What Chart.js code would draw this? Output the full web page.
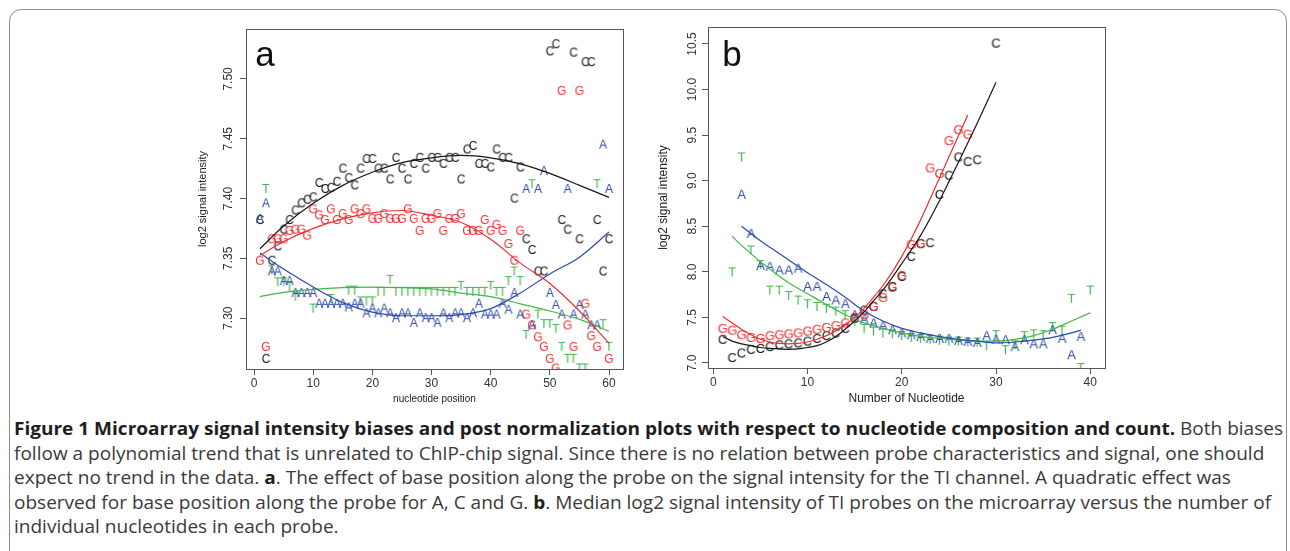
<!DOCTYPE html>
<html>
<head>
<meta charset="utf-8">
<script src="https://cdn.jsdelivr.net/npm/chart.js@4.4.0/dist/chart.umd.min.js"></script>
<style>
  body { margin: 0; width: 1290px; height: 551px; background: #fff; overflow: hidden; position: relative; }
  #frame { position: absolute; left: 9px; top: 9px; width: 1276px; height: 620px; border: 1px solid #8c8c8c; border-radius: 12px; }
  canvas { position: absolute; }
  #chartA { left: 170px; top: 20px; }
  #chartB { left: 640px; top: 15px; }
  .cap-line { position: absolute; left: 14px; font-family: "Open Sans", sans-serif; font-size: 18px; line-height: 24px;
              color: #3a3a3a; white-space: nowrap; transform-origin: 0 50%; }
  .cap-line b { color: #1e1e1e; }
</style>
</head>
<body>
<div id="frame"></div>
<canvas id="chartA" width="470" height="390"></canvas>
<canvas id="chartB" width="480" height="395"></canvas>

<div class="cap-line" style="top:416px"><b>Figure 1 Microarray signal intensity biases and post normalization plots with respect to nucleotide composition and count.</b> Both biases</div>
<div class="cap-line" style="top:440.5px">follow a polynomial trend that is unrelated to ChIP-chip signal. Since there is no relation between probe characteristics and signal, one should</div>
<div class="cap-line" style="top:465px">expect no trend in the data. <b>a</b>. The effect of base position along the probe on the signal intensity for the TI channel. A quadratic effect was</div>
<div class="cap-line" style="top:489.5px">observed for base position along the probe for A, C and G. <b>b</b>. Median log2 signal intensity of TI probes on the microarray versus the number of</div>
<div class="cap-line" style="top:514px">individual nucleotides in each probe.</div>

<script>
// ---------- panel a : base position along the probe ----------
var posC_a = [1,2,3,4,5,6,7,8,9,10,11,12,13,14,15,16,17,18,19,20,21,22,23,24,25,26,27,28,29,30,
              31,32,33,34,35,36,37,38,39,40,41,42,43,44,45,46,47,48,49,50,51,52,53,54,55,56,57,58,59,60];
var valC_a = [7.382,7.266,7.348,7.360,7.374,7.382,7.390,7.396,7.399,7.401,7.413,7.408,7.409,7.414,7.425,
              7.417,7.411,7.425,7.433,7.433,7.425,7.425,7.416,7.434,7.425,7.416,7.429,7.434,7.425,7.434,
              7.434,7.429,7.434,7.434,7.416,7.441,7.444,7.429,7.429,7.426,7.441,7.434,7.434,7.400,7.426,
              7.366,7.357,7.339,7.339,7.523,7.529,7.382,7.374,7.522,7.366,7.514,7.514,7.382,7.339,7.366];

var posG_a = [1,2,3,4,5,6,7,8,9,10,11,12,13,14,15,16,17,18,19,20,21,22,23,24,25,26,27,28,29,30,
              31,32,33,34,35,36,37,38,39,40,41,42,43,44,45,46,47,48,49,50,51,52,53,54,55,56,57,58,60];
var valG_a = [7.348,7.276,7.366,7.366,7.366,7.373,7.374,7.374,7.369,7.391,7.386,7.382,7.391,7.382,7.387,
              7.382,7.391,7.387,7.391,7.383,7.383,7.387,7.383,7.383,7.383,7.391,7.383,7.373,7.383,7.383,
              7.387,7.373,7.383,7.383,7.387,7.373,7.373,7.373,7.382,7.373,7.378,7.373,7.362,7.348,7.373,
              7.303,7.294,7.284,7.276,7.266,7.258,7.490,7.294,7.276,7.490,7.312,7.285,7.276,7.266];

var posA_a = posC_a;
var valA_a = [7.383,7.396,7.339,7.339,7.331,7.331,7.321,7.321,7.321,7.321,7.312,7.312,7.312,7.312,7.312,
              7.309,7.312,7.312,7.304,7.308,7.304,7.308,7.304,7.300,7.304,7.304,7.296,7.304,7.300,7.300,
              7.296,7.304,7.300,7.304,7.304,7.300,7.304,7.312,7.303,7.303,7.303,7.312,7.307,7.321,7.303,
              7.408,7.294,7.408,7.423,7.321,7.311,7.303,7.408,7.303,7.311,7.303,7.294,7.294,7.445,7.408];

var posT_a = [2,3,4,5,6,7,10,13,16,17,18,19,20,21,22,23,24,25,26,27,28,29,30,31,32,33,34,35,36,37,38,39,
              40,41,42,43,44,45,46,47,48,49,50,51,52,53,54,55,56,58,59,60];
var valT_a = [7.408,7.340,7.330,7.330,7.326,7.318,7.308,7.316,7.323,7.323,7.314,7.314,7.314,7.322,7.322,7.332,
              7.322,7.322,7.322,7.322,7.322,7.322,7.322,7.322,7.322,7.322,7.322,7.327,7.322,7.322,7.322,7.322,
              7.327,7.322,7.322,7.331,7.339,7.331,7.286,7.412,7.303,7.295,7.295,7.291,7.276,7.266,7.266,
              7.258,7.258,7.412,7.295,7.276];

// fitted trend lines
var fitX_a = [1,5,10,15,20,25,30,35,40,45,50,55,60];
var fitC_a = [7.358,7.377,7.396,7.411,7.422,7.430,7.434,7.436,7.434,7.429,7.421,7.411,7.401];
var fitG_a = [7.3525,7.364,7.375,7.383,7.388,7.390,7.386,7.380,7.366,7.346,7.329,7.306,7.279];
var fitA_a = [7.3544,7.341,7.326,7.313,7.305,7.302,7.302,7.303,7.308,7.321,7.337,7.351,7.372];
var fitT_a = [7.318,7.3215,7.324,7.3255,7.326,7.3255,7.3245,7.321,7.318,7.312,7.306,7.299,7.289];

// ---------- panel b : number of each nucleotide ----------
var numC_b = [1,2,3,4,5,6,7,8,9,10,11,12,13,14,15,16,17,18,19,20,21,22,23,24,25,26,27,28,30];
var valC_b = [7.26,7.06,7.11,7.15,7.16,7.18,7.20,7.21,7.22,7.24,7.27,7.30,7.33,7.38,7.49,7.58,7.62,7.76,
              7.84,7.95,8.17,8.31,8.32,8.85,9.06,9.26,9.21,9.23,10.51];

var numG_b = [1,2,3,4,5,6,7,8,9,10,11,12,13,14,15,16,17,18,19,20,21,22,23,24,25,26,27];
var valG_b = [7.38,7.36,7.31,7.28,7.27,7.30,7.31,7.32,7.33,7.35,7.37,7.39,7.41,7.44,7.50,7.53,7.62,7.72,
              7.83,7.96,8.30,8.31,9.14,9.08,9.44,9.56,9.51];

var numA_b = [3,4,5,6,7,8,9,10,11,12,13,14,15,16,17,18,19,20,21,22,23,24,25,26,27,28,29,30,31,32,33,34,
              35,36,37,38,39];
var valA_b = [8.85,8.42,8.07,8.06,8.02,8.02,8.04,7.84,7.84,7.73,7.69,7.65,7.53,7.48,7.44,7.41,7.365,7.33,
              7.31,7.29,7.27,7.27,7.27,7.247,7.236,7.226,7.30,7.26,7.255,7.18,7.255,7.21,7.21,7.365,7.27,
              7.09,7.29];

var numT_b = [2,3,4,5,6,7,8,9,10,11,12,13,14,15,16,17,18,19,20,21,22,23,24,25,26,27,28,29,30,31,32,33,
              34,35,36,37,38,39,40];
var valT_b = [8.00,9.26,8.24,8.08,7.80,7.80,7.74,7.69,7.65,7.62,7.60,7.57,7.53,7.46,7.38,7.35,7.33,7.32,
              7.30,7.28,7.27,7.26,7.25,7.24,7.24,7.23,7.23,7.19,7.31,7.146,7.20,7.30,7.32,7.31,7.40,7.36,
              7.71,6.95,7.80];

var fitXC_b = [1,2,3,4,5,6,7,8,9,10,11,12,13,14,15,16,17,18,19,20,22,24,26,28,30];
var fitC_b  = [7.29,7.24,7.21,7.19,7.17,7.16,7.155,7.15,7.155,7.17,7.19,7.23,7.29,7.37,7.46,7.56,7.68,
               7.80,7.94,8.09,8.40,8.78,9.20,9.63,10.08];
var fitXG_b = [1,2,3,4,5,6,7,8,9,10,11,12,13,14,15,16,17,18,19,20,21,22,23,24,25,26,27];
var fitG_b  = [7.51,7.44,7.37,7.31,7.26,7.23,7.215,7.21,7.215,7.23,7.26,7.30,7.35,7.42,7.50,7.60,7.72,
               7.85,8.00,8.17,8.36,8.57,8.80,9.03,9.26,9.49,9.72];
var fitXA_b = [3,4,5,6,7,8,10,12,14,16,18,20,22,24,26,28,30,32,34,36,38,39];
var fitA_b  = [8.50,8.42,8.34,8.27,8.20,8.13,7.99,7.86,7.72,7.57,7.46,7.38,7.33,7.29,7.26,7.24,7.22,7.23,
               7.25,7.28,7.33,7.36];
var fitXT_b = [2,3,4,5,6,8,10,12,14,16,18,20,22,24,26,28,30,32,34,36,38,40];
var fitT_b  = [8.39,8.29,8.20,8.11,8.03,7.88,7.76,7.64,7.53,7.44,7.38,7.33,7.29,7.27,7.25,7.24,7.24,7.26,
               7.30,7.37,7.46,7.55];

var FONT = '"Liberation Sans", Arial, sans-serif';
var colC = '#151515', colG = '#ee2e2e', colA = '#2c49ab', colT = '#44b54a';

// a letter drawn on a small canvas, used as the point style
function letterImage(ch, color, px) {
    var c = document.createElement('canvas');
    c.width = px + 4;
    c.height = px + 4;
    var g = c.getContext('2d');
    g.font = px + 'px ' + FONT;
    g.fillStyle = color;
    g.textAlign = 'center';
    g.textBaseline = 'alphabetic';
    g.fillText(ch, c.width / 2, c.height / 2 + px * 0.36);
    return c;
}

function pts(xs, ys) {
    return xs.map(function (x, i) { return { x: x, y: ys[i] }; });
}

function letterSet(ch, color, xs, ys, px) {
    return { label: ch, data: pts(xs, ys), pointStyle: letterImage(ch, color, px), pointRadius: 4, showLine: false };
}

function curveSet(color, xs, ys) {
    return { data: pts(xs, ys), showLine: true, borderColor: color, borderWidth: 1.2, pointRadius: 0,
             cubicInterpolationMode: 'monotone', fill: false };
}

// box round the plot region and the panel letter
var panelBox = {
    id: 'panelBox',
    afterDatasetsDraw: function (chart, args, opts) {
        var ctx = chart.ctx, a = chart.chartArea;
        ctx.save();
        ctx.strokeStyle = '#555';
        ctx.lineWidth = 1;
        ctx.strokeRect(Math.round(a.left) + 0.5, Math.round(a.top) + 0.5,
                       Math.round(a.right - a.left), Math.round(a.bottom - a.top));
        ctx.font = '35px ' + FONT;
        ctx.fillStyle = '#111';
        ctx.textAlign = 'center';
        ctx.fillText(opts.letter, a.left + opts.dx, a.top + opts.dy);
        ctx.restore();
    }
};

function axisX(min, max, fitH, title, titleSize, titlePad) {
    return {
        type: 'linear', min: min, max: max,
        afterFit: function (s) { s.height = fitH; },
        border: { display: false },
        grid: { drawOnChartArea: false, tickLength: 6, color: '#555' },
        ticks: { stepSize: 10, includeBounds: false, padding: 1, maxRotation: 0, autoSkip: false,
                 color: '#333', font: { family: FONT, size: 12 } },
        title: { display: true, text: title, color: '#222', font: { family: FONT, size: titleSize },
                 padding: { top: 0, bottom: titlePad } }
    };
}

function axisY(min, max, step, digits, fitW, labelPad, titleSize, titlePad) {
    return {
        type: 'linear', min: min, max: max,
        afterFit: function (s) { s.width = fitW; },
        border: { display: false },
        grid: { drawOnChartArea: false, tickLength: 6, color: '#555' },
        ticks: { stepSize: step, includeBounds: false, padding: labelPad, minRotation: 90, maxRotation: 90,
                 crossAlign: 'center', autoSkip: false, color: '#333', font: { family: FONT, size: 12 },
                 callback: function (v) { return v.toFixed(digits); } },
        title: { display: true, text: 'log2 signal intensity', color: '#222', font: { family: FONT, size: titleSize },
                 padding: { top: titlePad, bottom: 0 } }
    };
}

var chartA = new Chart(document.getElementById('chartA'), {
    type: 'scatter',
    data: {
        datasets: [
            curveSet(colC, fitX_a, fitC_a),
            curveSet(colG, fitX_a, fitG_a),
            curveSet(colA, fitX_a, fitA_a),
            curveSet(colT, fitX_a, fitT_a),
            letterSet('A', colA, posA_a, valA_a, 12),
            letterSet('T', colT, posT_a, valT_a, 12),
            letterSet('G', colG, posG_a, valG_a, 12),
            letterSet('C', colC, posC_a, valC_a, 12)
        ]
    },
    options: {
        responsive: false, animation: false, events: [], devicePixelRatio: 1,
        layout: { padding: { left: 0, top: 9, right: 17, bottom: 0 } },
        plugins: { legend: { display: false }, tooltip: { enabled: false },
                   panelBox: { letter: 'a', dx: 19, dy: 37 } },
        scales: {
            x: axisX(-1.36, 62.36, 41, 'nucleotide position', 10, 5),
            y: axisY(7.2575, 7.5417, 0.05, 2, 76, 0, 11, 26.4)
        }
    },
    plugins: [panelBox]
});

var chartB = new Chart(document.getElementById('chartB'), {
    type: 'scatter',
    data: {
        datasets: [
            curveSet(colC, fitXC_b, fitC_b),
            curveSet(colG, fitXG_b, fitG_b),
            curveSet(colA, fitXA_b, fitA_b),
            curveSet(colT, fitXT_b, fitT_b),
            letterSet('A', colA, numA_b, valA_b, 13),
            letterSet('T', colT, numT_b, valT_b, 13),
            letterSet('G', colG, numG_b, valG_b, 13),
            letterSet('C', colC, numC_b, valC_b, 13)
        ]
    },
    options: {
        responsive: false, animation: false, events: [], devicePixelRatio: 1,
        layout: { padding: { left: 0, top: 12, right: 15, bottom: 0 } },
        plugins: { legend: { display: false }, tooltip: { enabled: false },
                   panelBox: { letter: 'b', dx: 24, dy: 39 } },
        scales: {
            x: axisX(-0.56, 41.56, 42, 'Number of Nucleotide', 12, 4),
            y: axisY(6.945, 10.686, 0.5, 1, 68, -2, 12, 16.8)
        }
    },
    plugins: [panelBox]
});

// squeeze the caption so the first line spans the frame like the original
var capLines = document.querySelectorAll('.cap-line');
var natural = capLines[0].getBoundingClientRect().width;
var sx = 1269 / natural;
capLines.forEach(function (el) { el.style.transform = 'scaleX(' + sx + ')'; });
</script>
</body>
</html>
